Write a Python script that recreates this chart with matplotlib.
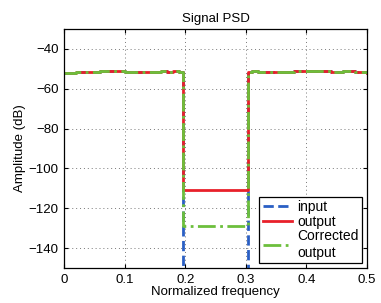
import matplotlib
matplotlib.use("Agg")
import matplotlib.pyplot as plt

plt.rcParams['font.family'] = ['Liberation Sans', 'DejaVu Sans']

freq = [0.0, 0.02, 0.04, 0.06, 0.08, 0.10, 0.12, 0.14, 0.16, 0.17, 0.18, 0.19, 0.196,
        0.197, 0.25, 0.302,
        0.303, 0.31, 0.32, 0.34, 0.36, 0.38, 0.40, 0.42, 0.44, 0.46, 0.48, 0.5]
input_db = [-52.0, -51.8, -51.5, -51.3, -51.0, -51.4, -51.8, -51.5, -51.0, -51.6, -51.0, -51.4, -51.8,
            -200, -200, -200,
            -51.5, -51.0, -51.5, -51.6, -51.8, -51.3, -51.0, -51.2, -51.5, -51.3, -51.7, -52.0]
output_db = [-52.0, -51.8, -51.5, -51.3, -51.0, -51.4, -51.8, -51.5, -51.0, -51.6, -51.0, -51.4, -51.8,
             -111.0, -111.0, -111.0,
             -51.5, -51.0, -51.5, -51.6, -51.8, -51.3, -51.0, -51.2, -51.5, -51.3, -51.7, -52.0]
corrected_db = [-52.0, -51.8, -51.5, -51.3, -51.0, -51.4, -51.8, -51.5, -51.0, -51.6, -51.0, -51.4, -51.8,
                -129.0, -129.0, -129.0,
                -51.5, -51.0, -51.5, -51.6, -51.8, -51.3, -51.0, -51.2, -51.5, -51.3, -51.7, -52.0]
x_ticks = [0, 0.1, 0.2, 0.3, 0.4, 0.5]
y_ticks = [-140, -120, -100, -80, -60, -40]

fs = 9.5
fig = plt.figure(figsize=(3.81, 3.03), dpi=100)
ax = fig.add_axes([64/381, 35/303, 303/381, 239/303])
ax.step(freq, input_db, where='post', color='#2a5fc4', ls='--', lw=2.0, label='input')
ax.step(freq, output_db, where='post', color='#e8202a', ls='-', lw=2.0, label='output')
ax.step(freq, corrected_db, where='post', color='#6cbf3c', ls='-.', lw=2.0, label='Corrected\noutput')
ax.set_xlim(0, 0.5)
ax.set_ylim(-150, -30)
ax.set_xticks(x_ticks)
ax.set_xticklabels([f'{t:g}' for t in x_ticks])
ax.set_yticks(y_ticks)
ax.set_yticklabels([f'\u2212{abs(t)}' for t in y_ticks])
ax.grid(True, ls=(0, (1, 3)), color='#777777', lw=0.7)
ax.tick_params(direction='in', labelsize=fs, length=3, top=True, right=True, pad=4)
ax.set_title('Signal PSD', fontsize=fs, pad=5)
ax.set_xlabel('Normalized frequency', fontsize=fs, labelpad=0)
ax.set_ylabel('Amplitude (dB)', fontsize=fs, labelpad=2)
for s in ax.spines.values():
    s.set_linewidth(0.9)
leg = ax.legend(loc='lower right', fontsize=fs + 0.5, handlelength=2.1, handletextpad=0.4,
                borderpad=0.25, labelspacing=0.05, fancybox=False, framealpha=1,
                edgecolor='black', borderaxespad=0.35)
leg.get_frame().set_linewidth(0.9)
fig.savefig('out.png', dpi=100)
